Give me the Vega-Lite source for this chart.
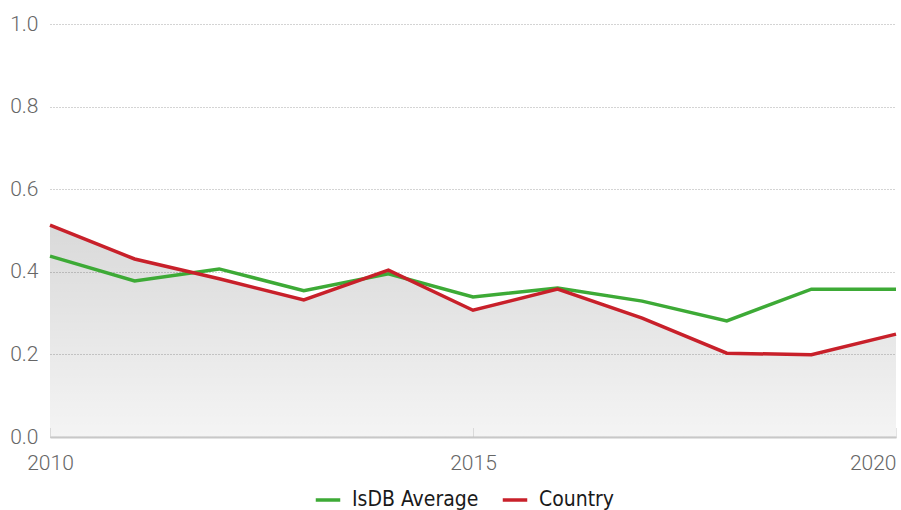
{
  "$schema": "https://vega.github.io/schema/vega-lite/v6.json",
  "width": 846,
  "height": 413,
  "autosize": {"type": "none"},
  "padding": {"left": 50, "top": 24, "right": 5, "bottom": 73},
  "background": "white",
  "config": {"view": {"stroke": null}},
  "data": {
    "values": [
      {"year": 2010, "series": "IsDB Average", "value": 0.438},
      {"year": 2011, "series": "IsDB Average", "value": 0.378},
      {"year": 2012, "series": "IsDB Average", "value": 0.407},
      {"year": 2013, "series": "IsDB Average", "value": 0.354},
      {"year": 2014, "series": "IsDB Average", "value": 0.395},
      {"year": 2015, "series": "IsDB Average", "value": 0.339},
      {"year": 2016, "series": "IsDB Average", "value": 0.361},
      {"year": 2017, "series": "IsDB Average", "value": 0.329},
      {"year": 2018, "series": "IsDB Average", "value": 0.281},
      {"year": 2019, "series": "IsDB Average", "value": 0.358},
      {"year": 2020, "series": "IsDB Average", "value": 0.358},
      {"year": 2010, "series": "Country", "value": 0.513},
      {"year": 2011, "series": "Country", "value": 0.431},
      {"year": 2012, "series": "Country", "value": 0.383},
      {"year": 2013, "series": "Country", "value": 0.332},
      {"year": 2014, "series": "Country", "value": 0.404},
      {"year": 2015, "series": "Country", "value": 0.307},
      {"year": 2016, "series": "Country", "value": 0.358},
      {"year": 2017, "series": "Country", "value": 0.288},
      {"year": 2018, "series": "Country", "value": 0.203},
      {"year": 2019, "series": "Country", "value": 0.199},
      {"year": 2020, "series": "Country", "value": 0.249}
    ]
  },
  "encoding": {
    "x": {
      "field": "year",
      "type": "quantitative",
      "scale": {"domain": [2010, 2020], "nice": false, "zero": false},
      "axis": {
        "title": null,
        "values": [2010, 2015, 2020],
        "format": "d",
        "grid": false,
        "domainColor": "#c8c8c8",
        "domainWidth": 2,
        "tickSize": -9,
        "tickColor": "#c8c8c8",
        "tickDash": [1, 1],
        "labelFont": "Roboto",
        "labelFontWeight": 300,
        "labelFontSize": 21,
        "labelColor": "#666666",
        "labelPadding": 24,
        "labelAlign": {"expr": "datum.value == 2020 ? 'right' : 'center'"}
      }
    },
    "y": {
      "field": "value",
      "type": "quantitative",
      "scale": {"domain": [0, 1], "nice": false},
      "axis": {
        "title": null,
        "values": [0, 0.2, 0.4, 0.6, 0.8, 1.0],
        "format": ".1f",
        "domain": false,
        "ticks": false,
        "gridColor": "#a8a8a8",
        "gridDash": [1, 2],
        "gridWidth": 1,
        "labelFont": "Roboto",
        "labelFontWeight": 300,
        "labelFontSize": 21,
        "labelColor": "#666666",
        "labelPadding": 12
      }
    }
  },
  "layer": [
    {
      "transform": [{"filter": "datum.series == 'Country'"}],
      "mark": {
        "type": "area",
        "color": {
          "gradient": "linear",
          "x1": 0, "y1": 0, "x2": 0, "y2": 1,
          "stops": [
            {"offset": 0, "color": "rgba(0,0,0,0.15)"},
            {"offset": 1, "color": "rgba(0,0,0,0.045)"}
          ]
        }
      },
      "encoding": {}
    },
    {
      "mark": {"type": "line", "strokeWidth": 3.5},
      "encoding": {
        "color": {
          "field": "series",
          "type": "nominal",
          "scale": {"domain": ["IsDB Average", "Country"], "range": ["#3daa36", "#c8202a"]},
          "legend": {
            "title": null,
            "orient": "none",
            "legendX": 264,
            "legendY": 462,
            "direction": "horizontal",
            "symbolType": "stroke",
            "symbolStrokeWidth": 3.5,
            "symbolSize": 600,
            "labelFont": "DejaVu Sans Condensed",
            "labelFontSize": 21,
            "labelColor": "#1a1a1a",
            "labelOffset": 10,
            "columnPadding": 16
          }
        }
      }
    }
  ]
}
